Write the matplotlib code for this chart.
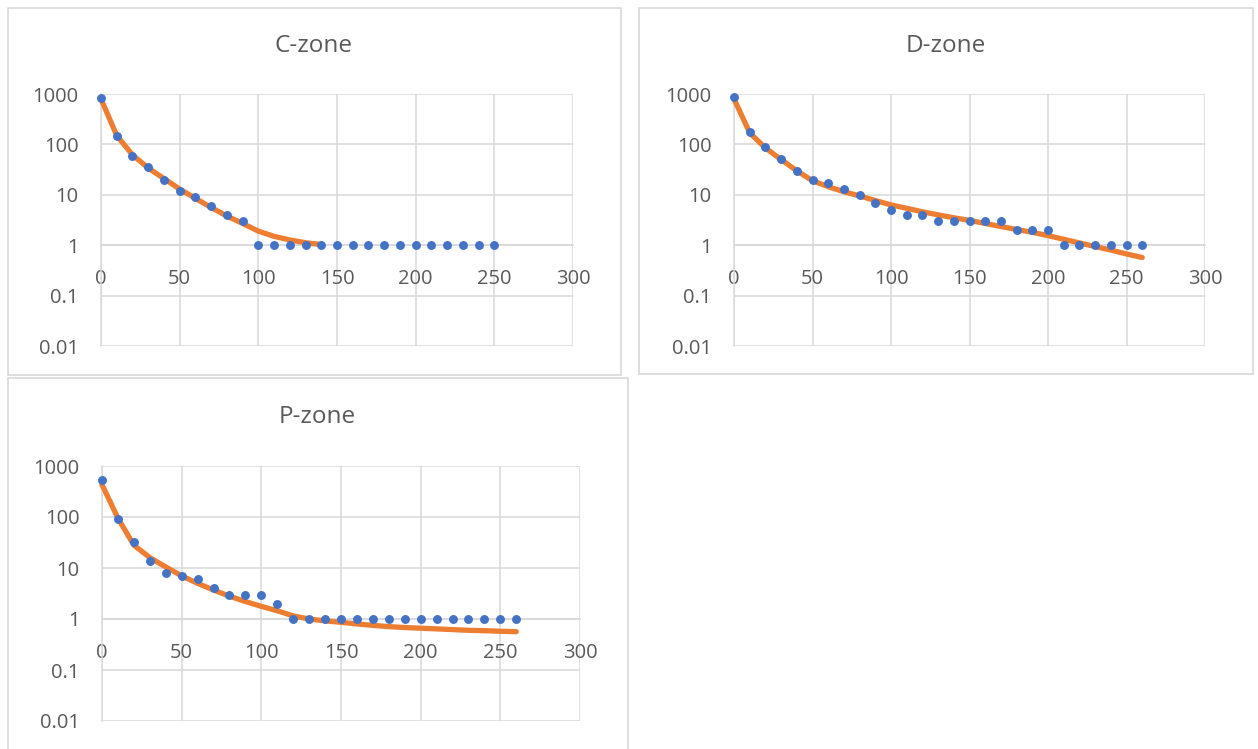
import matplotlib
import numpy as np

matplotlib.use("Agg")
import matplotlib.pyplot as plt  # noqa: E402
from matplotlib.patches import Rectangle  # noqa: E402

plt.rcParams["font.family"] = ["Open Sans", "DejaVu Sans"]

# ---- data ----
c_dist = [0, 10, 20, 30, 40, 50, 60, 70, 80, 90, 100, 110, 120, 130, 140,
          150, 160, 170, 180, 190, 200, 210, 220, 230, 240, 250]
c_obs = [850, 145, 58, 36, 20, 12, 9, 6, 4, 3, 1, 1, 1, 1, 1,
         1, 1, 1, 1, 1, 1, 1, 1, 1, 1, 1]
c_fit_dist = [0, 10, 20, 30, 40, 50, 60, 70, 80, 90, 100, 110, 120, 130, 140]
c_fit = [800, 150, 62, 34, 21, 13, 8.5, 5.6, 3.8, 2.7, 1.9, 1.5, 1.27, 1.12, 1.03]

d_dist = [0, 10, 20, 30, 40, 50, 60, 70, 80, 90, 100, 110, 120, 130, 140,
          150, 160, 170, 180, 190, 200, 210, 220, 230, 240, 250, 260]
d_obs = [870, 175, 88, 51, 30, 20, 17, 13, 10, 7, 5, 4, 4, 3, 3,
         3, 3, 3, 2, 2, 2, 1, 1, 1, 1, 1, 1]
d_fit = [800, 170, 85, 50, 30, 19, 14.5, 11.5, 9.5, 7.7, 6.3, 5.4, 4.6, 4.0, 3.5,
         3.1, 2.7, 2.35, 2.05, 1.8, 1.55, 1.31, 1.11, 0.94, 0.8, 0.67, 0.57]

p_dist = [0, 10, 20, 30, 40, 50, 60, 70, 80, 90, 100, 110, 120, 130, 140,
          150, 160, 170, 180, 190, 200, 210, 220, 230, 240, 250, 260]
p_obs = [520, 90, 32, 14, 8, 7, 6, 4, 3, 3, 3, 2, 1, 1, 1,
         1, 1, 1, 1, 1, 1, 1, 1, 1, 1, 1, 1]
p_fit = [430, 95, 28, 16, 10.5, 7, 5, 3.7, 2.8, 2.2, 1.77, 1.45, 1.15, 1.0, 0.92,
         0.86, 0.8, 0.75, 0.71, 0.68, 0.66, 0.64, 0.62, 0.6, 0.59, 0.575, 0.565]

x_ticks = [0, 50, 100, 150, 200, 250, 300]
y_ticks = [0.01, 0.1, 1, 10, 100, 1000]
y_labels = ["0.01", "0.1", "1", "10", "100", "1000"]

BLUE = "#4472C4"
ORANGE = "#ED7D31"
GRID = "#D9D9D9"
TEXT = "#595959"

W, H = 1258, 749
fig = plt.figure(figsize=(W / 100, H / 100), dpi=100)


def px_rect(x0, y0, x1, y1):
    """pixel box (top-left origin) -> figure fraction [l, b, w, h]"""
    return [x0 / W, 1 - y1 / H, (x1 - x0) / W, (y1 - y0) / H]


# chart frames
for x0, y0, x1, y1 in [(8, 8, 621, 375), (639, 8, 1253, 374), (8, 378, 628, 760)]:
    l, b, w, h = px_rect(x0, y0, x1, y1)
    fig.add_artist(Rectangle((l, b), w, h, transform=fig.transFigure,
                             fill=False, edgecolor=GRID, linewidth=1.2))


def zone(box, title, title_xy, xs, obs, fit_x, fit):
    ax = fig.add_axes(px_rect(*box))
    ax.set_yscale("log")
    ax.plot(fit_x, fit, color=ORANGE, linewidth=3.8, solid_capstyle="round",
            clip_on=False, zorder=3)
    ax.plot(xs, obs, "o", color=BLUE, markersize=5.4, clip_on=False, zorder=4)
    ax.set_xlim(0, 300)
    ax.set_ylim(0.01, 1000)
    ax.set_xticks(x_ticks)
    ax.set_xticklabels([str(t) for t in x_ticks])
    ax.set_yticks(y_ticks)
    ax.set_yticklabels(y_labels)
    ax.minorticks_off()
    ax.grid(True, color=GRID, linewidth=1.1)
    ax.set_axisbelow(True)
    for s in ["top", "right"]:
        ax.spines[s].set_visible(False)
    ax.spines["left"].set_color(GRID)
    ax.spines["left"].set_linewidth(1.1)
    ax.spines["bottom"].set_position(("data", 1))
    ax.spines["bottom"].set_color(GRID)
    ax.spines["bottom"].set_linewidth(1.1)
    ax.tick_params(axis="both", length=0, labelsize=14.5, labelcolor=TEXT)
    ax.tick_params(axis="x", pad=17)
    ax.tick_params(axis="y", pad=16)
    fig.text(title_xy[0] / W, 1 - title_xy[1] / H, title, ha="center",
             va="center", fontsize=17.5, color=TEXT)
    return ax


zone((101, 94, 573, 346), "C-zone", (314, 46), c_dist, c_obs, c_fit_dist, c_fit)
zone((734, 94, 1205, 346), "D-zone", (946, 46), d_dist, d_obs, d_dist, d_fit)
zone((102, 466, 580, 721), "P-zone", (317, 417), p_dist, p_obs, p_dist, p_fit)

fig.savefig("out.png", dpi=100)
plt.close(fig)
